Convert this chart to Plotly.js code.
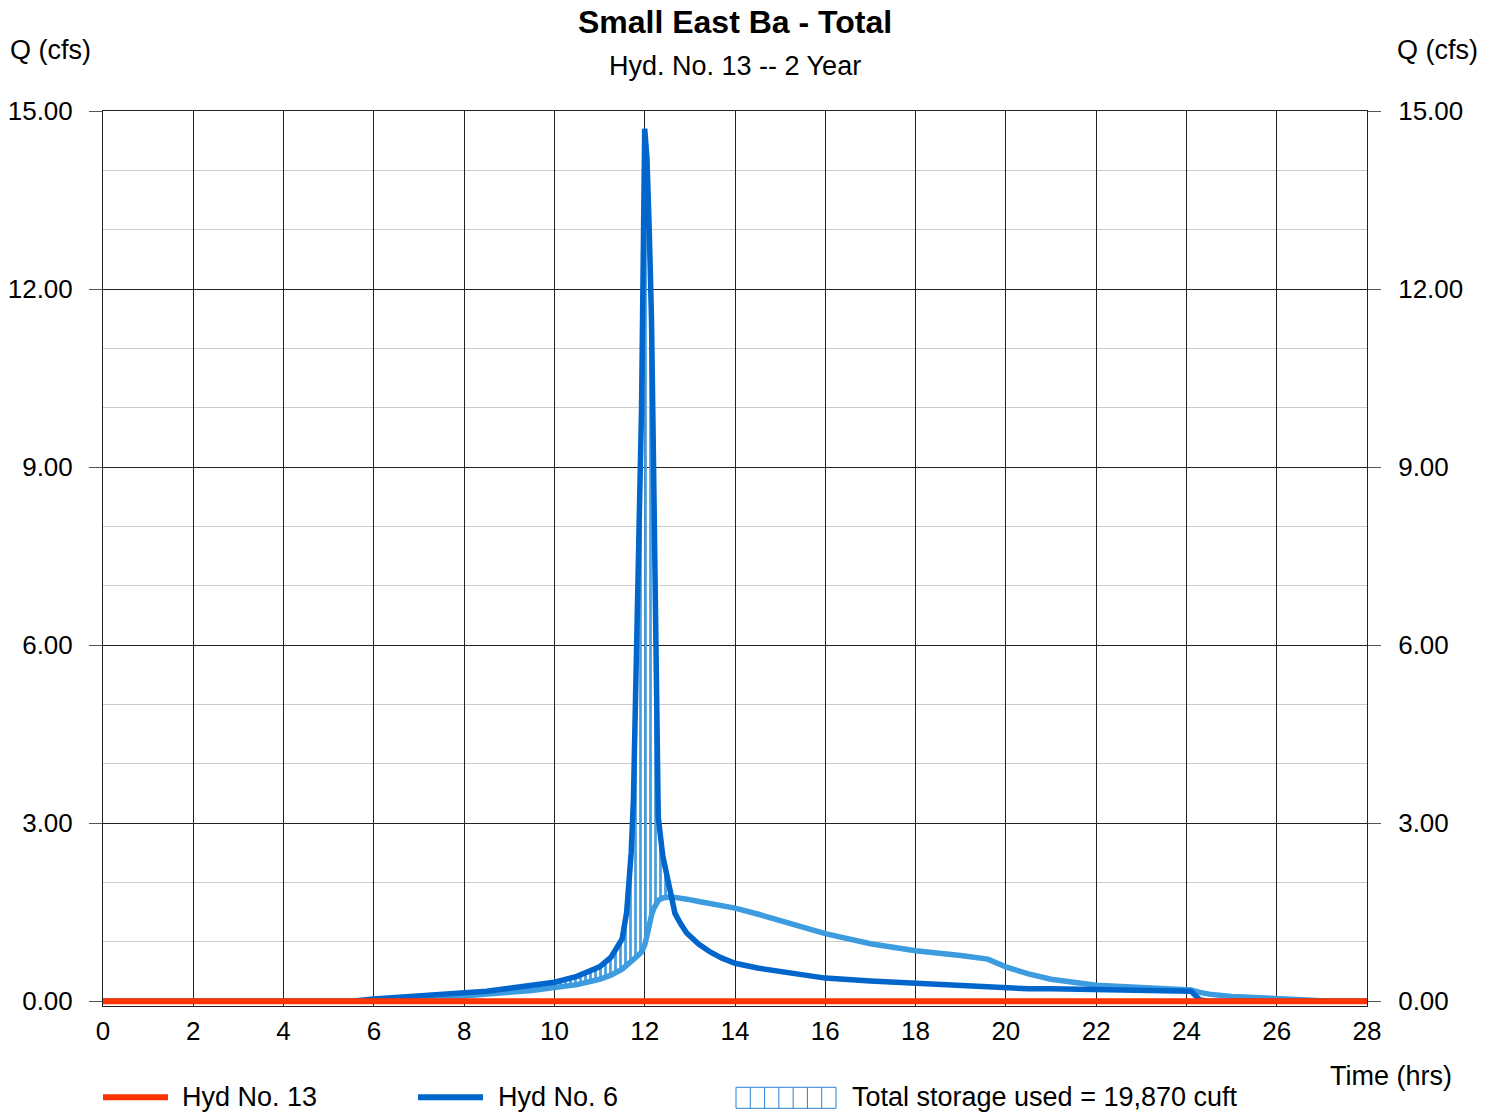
<!DOCTYPE html>
<html>
<head>
<meta charset="utf-8">
<script src="https://cdn.plot.ly/plotly-3.0.1.min.js"></script>
<style>
  html, body { margin: 0; padding: 0; background: #fff; }
  #chart { width: 1494px; height: 1112px; }
</style>
</head>
<body>
<div id="chart"></div>
<script>
// ---- Data ----
const timeHrs = [0, 5.5, 6, 7, 8, 8.5, 9, 9.5, 10, 10.5, 11, 11.25, 11.5, 11.6, 11.7, 11.75, 11.85, 11.93,
  12, 12.05, 12.1, 12.15, 12.2, 12.25, 12.3, 12.4, 12.5, 12.6, 12.67, 12.8, 12.93, 13.2, 13.45, 13.7,
  14, 14.5, 15, 16, 17, 18, 19, 19.6, 20, 20.5, 21, 22, 23, 24, 24.1, 24.3, 24.5, 25, 26, 27, 28];
// Hyd No. 6 (dark blue)
const hyd6Cfs = [0, 0, 0.04, 0.09, 0.14, 0.17, 0.22, 0.26, 0.32, 0.42, 0.58, 0.74, 1.05, 1.5, 2.5, 3.4, 6.8, 10.0,
  14.7, 14.2, 13.0, 11.5, 8.8, 5.5, 3.1, 2.45, 2.1, 1.76, 1.48, 1.3, 1.15, 0.96, 0.83, 0.73,
  0.64, 0.56, 0.50, 0.39, 0.34, 0.30, 0.26, 0.24, 0.22, 0.21, 0.21, 0.20, 0.20, 0.19, 0.17, 0.02, 0, 0, 0, 0, 0];
// second hydrograph (light blue, no legend entry)
const secondCfs = [0, 0, 0, 0.03, 0.08, 0.11, 0.15, 0.18, 0.22, 0.28, 0.37, 0.44, 0.54, 0.60, 0.66, 0.70, 0.77, 0.83,
  0.95, 1.10, 1.30, 1.45, 1.56, 1.64, 1.70, 1.74, 1.76, 1.76, 1.75, 1.74, 1.72, 1.68, 1.65, 1.61,
  1.57, 1.47, 1.36, 1.14, 0.97, 0.85, 0.77, 0.71, 0.58, 0.46, 0.37, 0.27, 0.23, 0.21, 0.19, 0.15, 0.12, 0.08, 0.04, 0.01, 0];
// Hyd No. 13 (red)
const hyd13Time = [0, 28];
const hyd13Cfs = [0, 0];

const yTickVals = [0, 3, 6, 9, 12, 15];
const xTickVals = [0, 2, 4, 6, 8, 10, 12, 14, 16, 18, 20, 22, 24, 26, 28];

const titleText = 'Small East Ba - Total';
const subtitleText = 'Hyd. No. 13 -- 2 Year';
const yAxisLabel = 'Q (cfs)';
const xAxisLabel = 'Time (hrs)';
const legendLabels = ['Hyd No. 13', 'Hyd No. 6', 'Total storage used = 19,870 cuft'];

// ---- Colours ----
const RED = '#ff3300';
const DARK = '#0066cc';
const LIGHT = '#3d9be0';
const FONT = 'Liberation Sans, Arial, sans-serif';

// ---- Storage polygon: where Hyd No. 6 is above the second hydrograph ----
let startIdx = timeHrs.indexOf(7);
let endIdx = timeHrs.indexOf(12.6);
const polyX = [], polyY = [];
for (let i = startIdx; i <= endIdx; i++) { polyX.push(timeHrs[i]); polyY.push(hyd6Cfs[i]); }
for (let i = endIdx; i >= startIdx; i--) { polyX.push(timeHrs[i]); polyY.push(secondCfs[i]); }

const traces = [
  {
    x: polyX, y: polyY, type: 'scatter', mode: 'lines', fill: 'toself',
    fillcolor: 'rgba(255,255,255,0)',
    fillpattern: { shape: '|', size: 5, solidity: 0.55, fgcolor: '#4a9fe0', bgcolor: 'rgba(255,255,255,0)' },
    line: { width: 0, color: 'rgba(0,0,0,0)' }, showlegend: false, hoverinfo: 'skip'
  },
  {
    x: timeHrs, y: secondCfs, type: 'scatter', mode: 'lines',
    line: { color: LIGHT, width: 5.5 }, showlegend: false
  },
  {
    x: timeHrs, y: hyd6Cfs, type: 'scatter', mode: 'lines', name: legendLabels[1],
    line: { color: DARK, width: 5.5 }, showlegend: false
  },
  {
    x: hyd13Time, y: hyd13Cfs, type: 'scatter', mode: 'lines', name: legendLabels[0],
    line: { color: RED, width: 6 }, showlegend: false
  },
  {
    x: timeHrs, y: secondCfs.map(() => null), yaxis: 'y2', type: 'scatter', mode: 'lines',
    showlegend: false, hoverinfo: 'skip'
  }
];

// Plot area: x 103..1367; y value 0 at 1001, 15 at 111; range extended slightly below 0
const YMIN = -0.08, YMAX = 15;
const PL = 103, PR = 1367, PT = 111;
const PX_PER_UNIT = (1001 - 111) / 15;
const PB = 1001 - YMIN * PX_PER_UNIT;
const px = v => (v - PL) / (PR - PL);
const py = v => (PB - v) / (PB - PT);

const shapes = [
  { type: 'line', xref: 'paper', yref: 'paper', x0: px(103), x1: px(168), y0: py(1097), y1: py(1097),
    line: { color: RED, width: 6 } },
  { type: 'line', xref: 'paper', yref: 'paper', x0: px(418), x1: px(483), y0: py(1097), y1: py(1097),
    line: { color: DARK, width: 6 } },
  { type: 'rect', xref: 'paper', yref: 'paper', x0: px(736), x1: px(836), y0: py(1108), y1: py(1087),
    line: { color: '#2b80d6', width: 1 }, fillcolor: 'rgba(0,0,0,0)' }
];
for (let k = 1; k < 7; k++) {
  const xx = 736 + k * (100 / 7);
  shapes.push({ type: 'line', xref: 'paper', yref: 'paper', x0: px(xx), x1: px(xx), y0: py(1108), y1: py(1087),
    line: { color: '#2b80d6', width: 1 } });
}

const txt = (text, x, y, xanchor, size) => ({
  text, xref: 'paper', yref: 'paper', x: px(x), y: py(y), xanchor, yanchor: 'middle',
  showarrow: false, font: { family: FONT, size: size || 27, color: '#000' }
});

const annotations = [
  txt(subtitleText, 735, 66, 'center', 27),
  txt(yAxisLabel, 50, 50, 'center', 27),
  txt(yAxisLabel, 1437, 50, 'center', 27),
  txt(xAxisLabel, 1391, 1076, 'center', 27),
  txt(legendLabels[0], 180, 1097, 'left', 27),
  txt(legendLabels[1], 496, 1097, 'left', 27),
  txt(legendLabels[2], 850, 1097, 'left', 27)
];

const yAxisCommon = {
  range: [YMIN, YMAX], tickvals: yTickVals, tickformat: '.2f', ticks: 'outside', ticklen: 13,
  tickcolor: '#555', tickwidth: 1, ticklabelstandoff: 11, tickfont: { family: FONT, size: 26, color: '#000' },
  fixedrange: true, zeroline: false
};

const layout = {
  width: 1494, height: 1112,
  margin: { l: PL, r: 1494 - PR, t: PT, b: 1112 - PB, pad: 0 },
  paper_bgcolor: '#fff', plot_bgcolor: '#fff',
  showlegend: false,
  title: { text: '<b>' + titleText + '</b>', font: { family: FONT, size: 32, color: '#000' },
    x: 0.5, xref: 'paper', xanchor: 'center', y: 1 - 22 / 1112, yref: 'container', yanchor: 'middle' },
  xaxis: {
    range: [0, 28], tickvals: xTickVals, showgrid: true, gridcolor: '#222', gridwidth: 1,
    ticks: 'outside', ticklen: 2, tickcolor: 'rgba(0,0,0,0)',
    tickfont: { family: FONT, size: 26, color: '#000' },
    showline: true, linecolor: '#222', linewidth: 1, mirror: true, zeroline: false
  },
  yaxis: Object.assign({}, yAxisCommon, {
    side: 'left', showgrid: true, gridcolor: '#222', gridwidth: 1,
    minor: { dtick: 1, showgrid: true, gridcolor: '#cccccc', gridwidth: 1, ticks: '' },
    showline: true, linecolor: '#222', linewidth: 1, mirror: true
  }),
  yaxis2: Object.assign({}, yAxisCommon, {
    side: 'right', overlaying: 'y', showgrid: false, showline: false, ticklabelstandoff: 12
  }),
  shapes, annotations
};

Plotly.newPlot('chart', traces, layout, { staticPlot: true, displayModeBar: false });
</script>
</body>
</html>
